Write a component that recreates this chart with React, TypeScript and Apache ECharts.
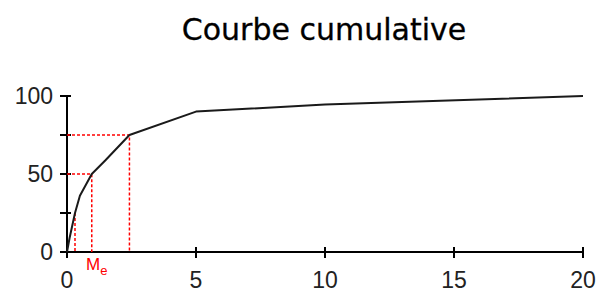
import React, { useEffect, useRef } from "react";
import * as echarts from "echarts";

const xs = [0, 0.1, 0.31, 0.5, 0.96, 1.5, 2.42, 5, 10, 20];
const cumulative = [0, 9, 25, 36, 50, 59, 75, 90, 94.5, 100];
const q1 = 0.31;
const median = 0.96;
const q3 = 2.42;
const xTicks = [0, 5, 10, 15, 20];
const yTickLabels = ["0", "", "50", "", "100"];
const title = "Courbe cumulative";

export default function App() {
  const ref = useRef<HTMLDivElement>(null);
  useEffect(() => {
    if (!ref.current) return;
    const chart = echarts.init(ref.current, undefined, { renderer: "svg" });
    const curve = xs.map((x, i) => [x, cumulative[i]]);
    const dash = { color: "#ff0000", width: 1.5, type: [3, 2] as any };
    const baseX = {
      type: "value" as const,
      min: 0,
      max: 20,
      interval: 5,
      splitLine: { show: false },
    };
    const baseY = {
      type: "value" as const,
      min: 0,
      max: 100,
      interval: 25,
      splitLine: { show: false },
    };
    chart.setOption({
      animation: false,
      graphic: [
        {
          type: "text",
          x: 324,
          y: 14,
          style: {
            text: title,
            fontFamily: "DejaVu Sans",
            fontSize: 30,
            fill: "#000",
            textAlign: "center",
            textVerticalAlign: "top",
            stroke: "#000",
            lineWidth: 0.3,
          },
        },
      ],
      grid: { left: 67, right: 18, top: 96, bottom: 38, containLabel: false },
      xAxis: [
        {
          ...baseX,
          axisLine: { show: true, lineStyle: { color: "#000", width: 2 } },
          axisTick: { show: true, length: 6, lineStyle: { color: "#000", width: 2 } },
          axisLabel: {
            margin: 16,
            fontFamily: "Liberation Sans",
            fontSize: 23,
            color: "#222",
            formatter: (v: number) => (xTicks.includes(v) ? String(v) : ""),
          },
        },
        {
          ...baseX,
          position: "bottom",
          axisLine: { show: false },
          axisTick: { show: true, inside: true, length: 5, lineStyle: { color: "#000", width: 2 } },
          axisLabel: { show: false },
        },
      ],
      yAxis: [
        {
          ...baseY,
          axisLine: { show: true, lineStyle: { color: "#000", width: 2 } },
          axisTick: { show: true, length: 7, lineStyle: { color: "#000", width: 2 } },
          axisLabel: {
            margin: 14,
            fontFamily: "Liberation Sans",
            fontSize: 23,
            color: "#222",
            formatter: (v: number) => yTickLabels[Math.round(v / 25)] ?? "",
          },
        },
        {
          ...baseY,
          position: "left",
          axisLine: { show: false },
          axisTick: { show: true, inside: true, length: 4, lineStyle: { color: "#000", width: 2 } },
          axisLabel: { show: false },
        },
      ],
      series: [
        {
          type: "line",
          data: [[0, 75], [q3, 75], [q3, 0]],
          symbol: "none",
          lineStyle: dash,
          z: 1,
        },
        {
          type: "line",
          data: [[0, 50], [median, 50], [median, 0]],
          symbol: "none",
          lineStyle: dash,
          z: 1,
          markPoint: {
            symbol: "circle",
            symbolSize: 0,
            data: [{ coord: [median, 0] }],
            label: {
              show: true,
              position: "bottom",
              distance: 4,
              offset: [5, 0],
              formatter: "{m|M}{e|e}",
              rich: {
                m: { fontFamily: "Liberation Sans", fontSize: 17, color: "#ff0000", verticalAlign: "top" },
                e: { fontFamily: "Liberation Sans", fontSize: 13, color: "#ff0000", padding: [8, 0, 0, 0] },
              },
            },
          },
        },
        {
          type: "line",
          data: [[q1, 25], [q1, 0]],
          symbol: "none",
          lineStyle: dash,
          z: 1,
        },
        {
          type: "line",
          data: curve,
          symbol: "none",
          lineStyle: { color: "#1a1a1a", width: 2 },
          z: 3,
        },
      ],
    });
    return () => chart.dispose();
  }, []);
  return (
    <div
      ref={ref}
      style={{ position: "fixed", left: 0, top: 0, width: 601, height: 291, background: "#fff" }}
    />
  );
}
